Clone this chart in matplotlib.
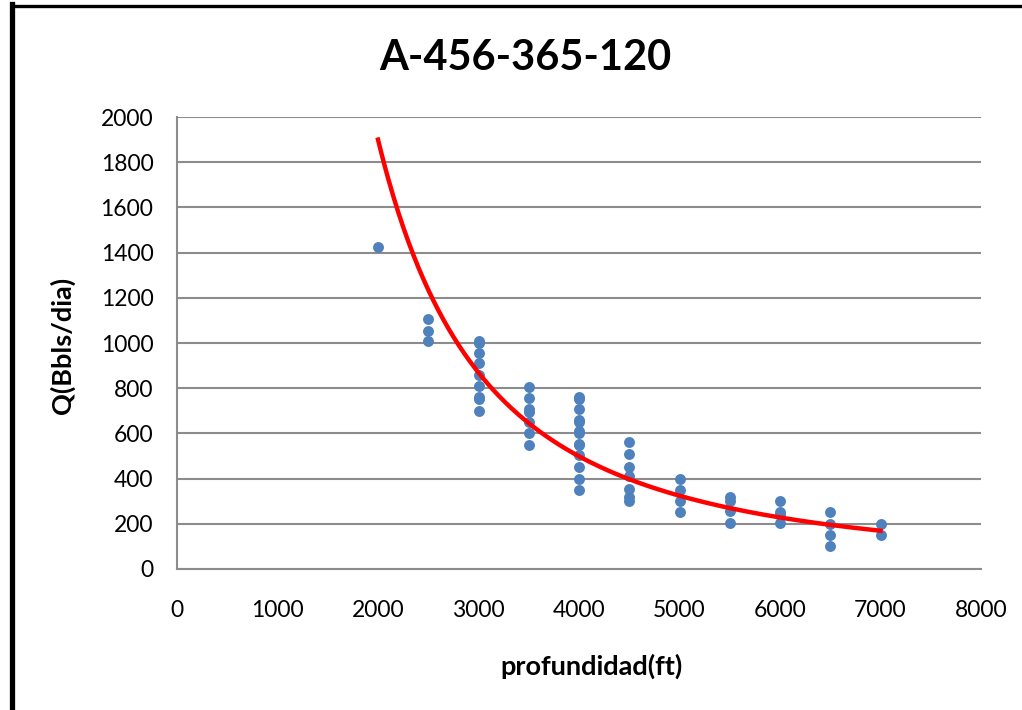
import numpy as np
import matplotlib
matplotlib.use("Agg")
import matplotlib.pyplot as plt
from matplotlib.lines import Line2D

plt.rcParams["font.family"] = ["Lato", "DejaVu Sans"]

# ==========================================================
# DATOS
# ==========================================================
titulo = "A-456-365-120"

prof_2000 = [1425]
prof_2500 = [1105, 1055, 1010]
prof_3000 = [1010, 1000, 955, 910, 860, 810, 760, 750, 700]
prof_3500 = [805, 755, 710, 695, 650, 600, 550]
prof_4000 = [760, 750, 710, 660, 650, 610, 600, 555, 550, 505, 450, 400, 350]
prof_4500 = [560, 510, 450, 410, 355, 320, 300]
prof_5000 = [400, 350, 300, 250]
prof_5500 = [320, 300, 255, 205]
prof_6000 = [300, 250, 240, 205]
prof_6500 = [250, 200, 150, 100]
prof_7000 = [200, 150]

grupos = {
    2000: prof_2000, 2500: prof_2500, 3000: prof_3000, 3500: prof_3500,
    4000: prof_4000, 4500: prof_4500, 5000: prof_5000, 5500: prof_5500,
    6000: prof_6000, 6500: prof_6500, 7000: prof_7000,
}

x_ticks = [0, 1000, 2000, 3000, 4000, 5000, 6000, 7000, 8000]
y_ticks = [0, 200, 400, 600, 800, 1000, 1200, 1400, 1600, 1800, 2000]

# curva potencial: Q = a * prof^b
curva_a = 1900.0 * 2000 ** 1.93
curva_b = -1.93

x = np.concatenate([[k] * len(v) for k, v in grupos.items()])
y = np.concatenate([v for v in grupos.values()])

# ==========================================================
# FIGURA
# ==========================================================
fig = plt.figure(figsize=(10.22, 7.10), dpi=100)
ax = fig.add_axes([0.1732, 0.1986, 0.9599 - 0.1732, 0.8352 - 0.1986])

ax.scatter(x, y, s=62, color="#4f81bd", zorder=3, linewidths=0)

xc = np.linspace(2000, 7000, 300)
ax.plot(xc, curva_a * xc ** curva_b, color="#ff0000", lw=3.2, zorder=4)

ax.set_xlim(0, 8000)
ax.set_ylim(0, 2000)
ax.set_xticks(x_ticks)
ax.set_yticks(y_ticks)
ax.tick_params(length=0, labelsize=16.5)
ax.tick_params(axis="y", pad=17)
ax.tick_params(axis="x", pad=22)
ax.grid(axis="y", color="#8c8c8c", lw=1.5)
ax.set_axisbelow(True)

for s in ["top", "right"]:
    ax.spines[s].set_visible(False)
for s in ["left", "bottom"]:
    ax.spines[s].set_color("#8c8c8c")
    ax.spines[s].set_linewidth(1.5)

fig.text(0.514, 0.918, titulo, ha="center", va="center",
         fontsize=30, fontweight="bold")
fig.text(0.579, 0.061, "profundidad(ft)", ha="center", va="center",
         fontsize=19.5, fontweight="bold")
fig.text(0.061, 0.513, "Q(Bbls/dia)", ha="center", va="center",
         fontsize=19.5, fontweight="bold", rotation=90)

# marco negro
fig.add_artist(Line2D([0.0113, 1.0], [1 - 5.5 / 710] * 2, color="black",
                      lw=2.4, transform=fig.transFigure))
fig.add_artist(Line2D([11.5 / 1022] * 2, [0.0, 1 - 4 / 710], color="black",
                      lw=3.8, transform=fig.transFigure))

plt.savefig("out.png", dpi=100)
plt.close(fig)
